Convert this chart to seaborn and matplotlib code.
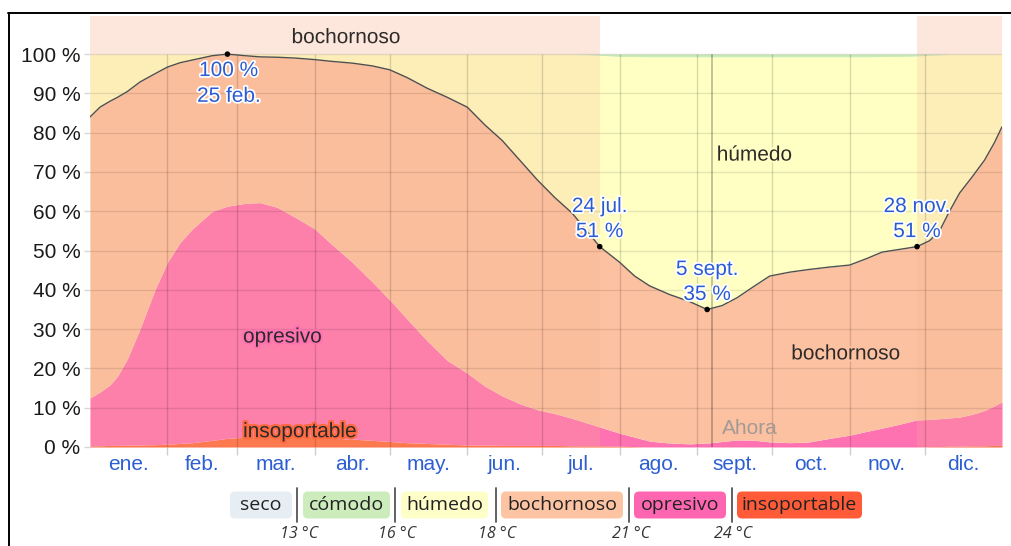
import numpy as np
import matplotlib
matplotlib.use("Agg")
import matplotlib.pyplot as plt
import matplotlib.transforms as mtrans
from matplotlib import patheffects as pe
from matplotlib.patches import FancyBboxPatch
from matplotlib.lines import Line2D
import seaborn as sns

# ---------------- data ----------------
days = [0, 4, 8, 11, 15, 20, 26, 31, 36, 41, 49, 55, 62, 68, 75, 82, 90, 96,
        105, 113, 120, 127, 135, 143, 151, 158, 165, 172, 179, 186, 193, 204,
        212, 218, 224, 232, 240, 247, 253, 259, 266, 272, 280, 288, 296, 304,
        311, 317, 324, 331, 336, 340, 344, 348, 353, 358, 362, 365]

insoportable_top = [0.3, 0.3, 0.4, 0.4, 0.5, 0.5, 0.6, 0.7, 0.9, 1.1, 1.7, 2.2, 2.5, 2.7, 2.8, 2.8, 2.7, 2.3,
                    2.0, 1.7, 1.4, 1.1, 0.9, 0.7, 0.5, 0.5, 0.4, 0.4, 0.4, 0.4, 0.3, 0.3,
                    0.2, 0.1, 0.0, 0.0, 0.0, 0.0, 0.0, 0.0, 0.0, 0.0, 0.0, 0.0, 0.0, 0.0,
                    0.0, 0.0, 0.0, 0.0, 0.1, 0.1, 0.2, 0.2, 0.3, 0.3, 0.4, 0.4]

opresivo_top = [12.5, 14.0, 15.8, 18.0, 22.5, 30.0, 40.0, 47.0, 52.0, 55.5, 60.0, 61.3, 62.0, 62.2, 61.0, 58.5, 55.5, 52.0,
                47.0, 42.0, 37.4, 32.5, 27.0, 22.0, 18.8, 15.5, 13.0, 11.0, 9.5, 8.5, 7.3, 5.1,
                3.5, 2.5, 1.5, 1.0, 0.8, 1.0, 1.4, 1.8, 1.7, 1.3, 1.1, 1.3, 2.2, 3.0,
                4.0, 4.8, 5.8, 6.9, 7.0, 7.2, 7.4, 7.6, 8.3, 9.3, 10.5, 11.5]

bochornoso_top = [84.0, 86.5, 88.0, 89.0, 90.5, 92.9, 95.0, 96.7, 97.8, 98.5, 99.6, 100.0, 99.6, 99.3, 99.2, 99.0, 98.6, 98.2,
                  97.7, 97.0, 96.0, 94.0, 91.3, 89.0, 86.5, 82.0, 78.0, 73.0, 68.0, 63.5, 59.5, 51.0,
                  47.0, 43.5, 41.0, 38.8, 37.0, 35.0, 36.0, 38.0, 41.0, 43.5, 44.5, 45.2, 45.8, 46.3,
                  48.0, 49.6, 50.3, 51.0, 52.5, 55.0, 60.0, 64.6, 68.7, 73.0, 77.5, 81.5]

humedo_top = [100.0, 100.0, 100.0, 100.0, 100.0, 100.0, 100.0, 100.0, 100.0, 100.0, 100.0, 100.0, 100.0, 100.0, 100.0, 100.0, 100.0, 100.0,
              100.0, 100.0, 100.0, 100.0, 100.0, 100.0, 100.0, 100.0, 100.0, 100.0, 100.0, 100.0, 100.0, 99.7,
              99.4, 99.4, 99.3, 99.3, 99.3, 99.3, 99.3, 99.3, 99.3, 99.3, 99.3, 99.3, 99.3, 99.3,
              99.3, 99.4, 99.4, 99.5, 99.7, 99.8, 100.0, 100.0, 100.0, 100.0, 100.0, 100.0]
comodo_top = [100.0] * len(days)

month_starts = [0, 31, 59, 90, 120, 151, 181, 212, 243, 273, 304, 334, 365]
month_labels = ["ene.", "feb.", "mar.", "abr.", "may.", "jun.", "jul.",
                "ago.", "sept.", "oct.", "nov.", "dic."]
y_ticks = [0, 10, 20, 30, 40, 50, 60, 70, 80, 90, 100]

season_spans = [(0, 204), (331, 365)]
season_label = "bochornoso"
now_day = 249

extreme_days = [55, 204, 247, 331]
extreme_values = [100, 51, 35, 51]
extreme_labels = ["100 %\n25 feb.", "24 jul.\n51 %", "5 sept.\n35 %", "28 nov.\n51 %"]

legend_names = ["seco", "cómodo", "húmedo", "bochornoso", "opresivo", "insoportable"]
legend_temps = ["13 °C", "16 °C", "18 °C", "21 °C", "24 °C"]

# ---------------- style ----------------
C_SECO = "#e6eef2"
C_COMODO = "#c9ecb6"
C_HUMEDO = "#ffffc4"
C_BOCH = "#fcc1a1"
C_OPR = "#ff72b2"
C_INS = "#ff6a40"
LEG_COLORS = ["#e6eef3", "#cdecbc", "#fefec8", "#fdc4a4", "#ff66b2", "#ff5b38"]
BLUE = "#2a5bd2"

sns.set_theme(style="white")
plt.rcParams["font.family"] = ["Liberation Sans", "DejaVu Sans"]

W, H = 1011, 546
fig = plt.figure(figsize=(W / 100, H / 100), dpi=100)
fig.patch.set_facecolor("white")
YTOP = 109.7
ax = fig.add_axes([90 / W, 99 / H, 912 / W, 431 / H])
ax.set_xlim(0, 365)
ax.set_ylim(0, YTOP)
ax.set_facecolor("white")

d = np.array(days)
ins = np.array(insoportable_top)
opr = np.array(opresivo_top)
boc = np.array(bochornoso_top)
hum = np.array(humedo_top)
com = np.array(comodo_top)

ax.fill_between(d, 0, ins, color=C_INS, lw=0, zorder=1)
ax.fill_between(d, ins, opr, color=C_OPR, lw=0, zorder=1)
ax.fill_between(d, opr, boc, color=C_BOCH, lw=0, zorder=1)
ax.fill_between(d, boc, hum, color=C_HUMEDO, lw=0, zorder=1)
ax.fill_between(d, hum, com, color=C_COMODO, lw=0, zorder=1)
ax.fill_between(d, com, 100, color=C_SECO, lw=0, zorder=1)

# season overlay + top strip
for a, b in season_spans:
    ax.axvspan(a, b, ymin=0, ymax=100 / YTOP, color="#f9b690", alpha=0.22, lw=0, zorder=2)
    ax.axvspan(a, b, ymin=100 / YTOP, ymax=1, color="#fde7dc", lw=0, zorder=2)

# grid
ax.hlines(y_ticks, 0, 365, color="black", alpha=0.10, lw=1, zorder=3)
ax.vlines(month_starts[1:-1], 0, 100, color="black", alpha=0.15, lw=1, zorder=3)
ax.vlines([now_day], 0, 100, color="black", alpha=0.30, lw=1.1, zorder=3)

# boundary line and extreme points
sns.lineplot(x=days, y=bochornoso_top, ax=ax, color="#505050", lw=1.0, zorder=4, legend=False)
sns.scatterplot(x=extreme_days, y=extreme_values, ax=ax, color="black", s=16,
                edgecolor="none", zorder=6, legend=False)

white_halo = [pe.withStroke(linewidth=2.5, foreground="white")]
for i, (xd, yv, lab) in enumerate(zip(extreme_days, extreme_values, extreme_labels)):
    if i == 0:
        ax.annotate(lab, (xd, yv), xytext=(1, -5), textcoords="offset points",
                    ha="center", va="top", fontsize=15, color=BLUE, linespacing=1.45,
                    path_effects=white_halo, zorder=7)
    else:
        ax.annotate(lab, (xd, yv), xytext=(0, 4), textcoords="offset points",
                    ha="center", va="bottom", fontsize=15, color=BLUE, linespacing=1.4,
                    path_effects=white_halo, zorder=7)

def area_label(x, y, s, halo, color="#2e2a2a"):
    ax.text(x, y, s, ha="center", va="center", fontsize=15, color=color, zorder=7,
            path_effects=[pe.withStroke(linewidth=3, foreground=halo)])

area_label(102.5, 104.2, season_label, "#fde7dc")
area_label(266, 74.3, "húmedo", C_HUMEDO)
area_label(77, 28.0, "opresivo", C_OPR)
area_label(84, 3.9, "insoportable", C_INS)
area_label(302.5, 23.7, "bochornoso", C_BOCH)
ax.text(264, 4.8, "Ahora", ha="center", va="center", fontsize=15, color="#a39a96", zorder=7)

# ticks
for s in ax.spines.values():
    s.set_visible(False)
ax.set_yticks(y_ticks)
ax.set_yticklabels([f"{v} %" for v in y_ticks])
ax.tick_params(axis="y", which="major", left=True, length=4, width=1, color="#d8d8d8",
               pad=3, labelsize=15, labelcolor="#1a1a1a")
ax.set_xticks(month_starts[1:-1])
ax.set_xticklabels([""] * len(month_starts[1:-1]))
mids = [(month_starts[i] + month_starts[i + 1]) / 2 for i in range(12)]
ax.set_xticks(mids, minor=True)
ax.set_xticklabels(month_labels, minor=True)
ax.tick_params(axis="x", which="major", bottom=True, length=6, width=1, color="#cfcfcf")
ax.tick_params(axis="x", which="minor", bottom=True, length=0, pad=6,
               labelsize=15, labelcolor="#2d5fd2")
ax.grid(False)

# frame lines
fig.add_artist(Line2D([8.7 / W, 8.7 / W], [0, 1 - 12.5 / H], color="black", lw=1.4,
                      transform=fig.transFigure))
fig.add_artist(Line2D([8 / W, 1], [1 - 12.5 / H, 1 - 12.5 / H], color="black", lw=1.4,
                      transform=fig.transFigure))

# legend
ident = mtrans.IdentityTransform()
box_px = [(230, 292), (303, 390), (401, 488), (501, 623), (634, 726), (737, 862)]
sep_px = [297, 395, 495.5, 629, 731.5]
for (x0, x1), name, col in zip(box_px, legend_names, LEG_COLORS):
    patch = FancyBboxPatch((x0, H - 518.5), x1 - x0, 27,
                           boxstyle="round,pad=0,rounding_size=5",
                           fc=col, ec="none", transform=ident)
    fig.add_artist(patch)
    fig.text((x0 + x1) / 2 / W, 1 - 505 / H, name, ha="center", va="center",
             fontsize=14, family=["Open Sans", "DejaVu Sans"], color="#222222")
for sx, t in zip(sep_px, legend_temps):
    fig.add_artist(Line2D([sx / W, sx / W], [1 - 522 / H, 1 - 488 / H], color="#555555",
                          lw=1.3, transform=fig.transFigure))
    fig.text((sx + 2) / W, 1 - 534 / H, t, ha="center", va="center", fontsize=11.5,
             style="italic", family=["Open Sans", "DejaVu Sans"], color="#333333")

fig.savefig("out.png", dpi=100)
